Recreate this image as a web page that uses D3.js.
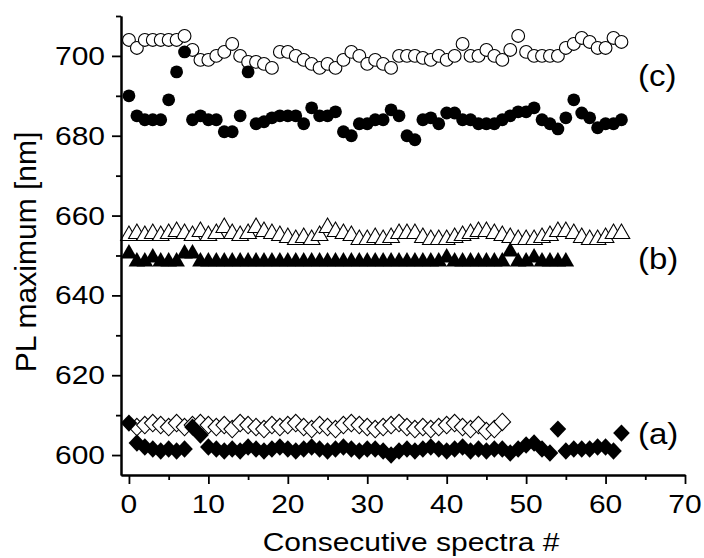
<!DOCTYPE html>
<html>
<head>
<meta charset="utf-8">
<script src="https://cdn.jsdelivr.net/npm/d3@7"></script>
<style>
  html, body { margin: 0; padding: 0; background: #fff; }
  svg { display: block; }
  text { font-family: "Liberation Sans", Arial, Helvetica, sans-serif; fill: #000; }
</style>
</head>
<body>
<svg id="chart" width="704" height="558"></svg>
<script>
// ---- data ----
const spectraIndex = d3.range(0, 63); // consecutive spectra numbers 0..62

// (c) open circles
const cOpen = [704,702,704,704,704,704,704,705,701.5,699,699,700,701,703,700,698.5,698.5,698,697,701,
               701,700,699,698,697,698,697,699,701,700,698,699,698,697,700,700,700,699.5,699,700,
               699,700,703,700,700,701.5,700,699,701.5,705,701,700,700,700,700,702,703,704.5,703.5,702,
               702,704.5,703.5];
// (c) filled circles
const cFilled = [690,685,684,684,684,689,696,701,684,685,684,684,681,681,685,696,683,683.5,684.5,685,
                 685,685,683,687,685,685,686,681,680,683,683,684,684,686.5,685,680,679,684,684.5,683,
                 685.7,685.7,684,684,683,683,683,684,685,686,686,687,684,683,681.7,684.5,689,685.7,684.5,682,
                 683,683,684];
// (b) open triangles
const bOpen = [655.5,656,655.5,656,655.5,656,656.5,656,655.5,656.5,655.5,656,657.5,656,655.5,656,657.5,656.5,656,655.5,
               655,654.5,655,654.5,655.5,657.5,656.5,656,655.5,654.5,654.5,655,654.5,655,656,656,656,655,654.5,654.5,
               654.5,655,655.5,656,656.5,656.5,656,655.5,655,654.5,654.5,654.5,655,655.5,656.5,656.5,656,655,654.5,654.5,
               655,656,656];
// (b) filled triangles (spectra 0..55)
const bFilled = [651,649,649,650,649,649,649,651,651,649,649,649,649,649,649,649,649,649,649,649,
                 649,649,649,649,649,649,649,649,649,649,649,649,649,649,649,649,649,649,649,649,
                 650,649,649,649,649,649,649,649,651.5,649,649,650,649,649,649,649];
// (a) open diamonds (spectra 1..47; none drawn at 0)
const aOpen = [null,607,607.5,608,607.5,607,608,607,607.5,608,607.5,607,607.5,606.5,608,607.5,607,606.5,607.5,607,
               607.5,608,607,606.5,607.5,607,606.5,607.5,608,607.5,607,606.5,607,607.5,608,607,606.5,607,606.5,607,
               607.5,608,607,606.5,607.5,606,606.5,608.3];
// (a) filled diamonds
const aFilled = [608,603,602,601.5,601,601.5,601,601.5,607,605,602,601.5,601,601.5,601,602,601.5,601,601.5,602,
                 601.5,601,601.5,602,601.5,601,601.5,602,601.5,601,601.5,601.5,601,600,601,601.5,601,601.5,602,601.5,
                 601,601.5,602,601,601.5,601,601.5,601.5,600.5,601.5,602.5,603,601.5,600.5,606.5,601,601.5,601.5,601.5,602,
                 602,601,605.5];

const xMajor = [0,10,20,30,40,50,60,70];
const xMinor = [5,15,25,35,45,55,65];
const yMajor = [600,620,640,660,680,700];
const yMinor = [610,630,650,670,690,710];
const seriesLabels = ["(c)", "(b)", "(a)"];
const seriesLabelLevels = [692.5, 646.5, 602.7];

// ---- scales ----
const svg = d3.select("#chart");
const x = d3.scaleLinear().domain([-1, 70]).range([121, 685]);
const y = d3.scaleLinear().domain([595, 710]).range([475, 16]);

function pts(vals) {
  return vals.map((v, i) => ({i: spectraIndex[i], v})).filter(d => d.v !== null && d.v !== undefined);
}

// ---- marks ----
const circleR = 6.4;
function triPath(d) {
  const cx = x(d.i), cy = y(d.v);
  return `M${cx},${cy - 7.5}L${cx + 8.3},${cy + 7}L${cx - 8.3},${cy + 7}Z`;
}
function diaPath(d) {
  const cx = x(d.i), cy = y(d.v);
  return `M${cx},${cy - 8.7}L${cx + 8.3},${cy}L${cx},${cy + 8.7}L${cx - 8.3},${cy}Z`;
}

const g = svg.append("g");
g.selectAll(".co").data(pts(cOpen)).join("circle")
  .attr("cx", d => x(d.i)).attr("cy", d => y(d.v)).attr("r", circleR)
  .attr("fill", "#fff").attr("stroke", "#000").attr("stroke-width", 1.1);
g.selectAll(".cf").data(pts(cFilled)).join("circle")
  .attr("cx", d => x(d.i)).attr("cy", d => y(d.v)).attr("r", circleR)
  .attr("fill", "#000");
g.selectAll(".bo").data(pts(bOpen)).join("path")
  .attr("d", triPath).attr("fill", "#fff").attr("stroke", "#000").attr("stroke-width", 1.1);
g.selectAll(".bf").data(pts(bFilled)).join("path")
  .attr("d", triPath).attr("fill", "#000");
g.selectAll(".ao").data(pts(aOpen)).join("path")
  .attr("d", diaPath).attr("fill", "#fff").attr("stroke", "#000").attr("stroke-width", 1.1);
g.selectAll(".af").data(pts(aFilled)).join("path")
  .attr("d", diaPath).attr("fill", "#000");

// ---- axes ----
function styleAxis(sel) {
  sel.selectAll("path").attr("stroke", "#000").attr("stroke-width", 2);
  sel.selectAll("line").attr("stroke", "#000").attr("stroke-width", 1.8);
}
svg.append("g").attr("transform", "translate(121,0)")
  .call(d3.axisLeft(y).tickValues(yMajor).tickSize(9).tickSizeOuter(0).tickFormat(""))
  .call(styleAxis);
svg.append("g").attr("transform", "translate(121,0)")
  .call(d3.axisLeft(y).tickValues(yMinor).tickSize(5).tickSizeOuter(0).tickFormat(""))
  .call(styleAxis);
svg.append("g").attr("transform", "translate(0,475)")
  .call(d3.axisBottom(x).tickValues(xMajor).tickSize(9).tickSizeOuter(0).tickFormat(""))
  .call(styleAxis);
svg.append("g").attr("transform", "translate(0,475)")
  .call(d3.axisBottom(x).tickValues(xMinor).tickSize(5).tickSizeOuter(0).tickFormat(""))
  .call(styleAxis);

// tick labels
svg.append("g").selectAll("text").data(yMajor).join("text")
  .attr("transform", d => `translate(105,${y(d) + 9}) scale(1,0.84)`)
  .attr("text-anchor", "end").attr("font-size", 30).text(d => d);
svg.append("g").selectAll("text").data(xMajor).join("text")
  .attr("transform", d => `translate(${x(d)},513) scale(1,0.84)`)
  .attr("text-anchor", "middle").attr("font-size", 30).text(d => d);

// axis titles
svg.append("text")
  .attr("transform", "translate(411,551) scale(1,0.84)")
  .attr("text-anchor", "middle").attr("font-size", 30).text("Consecutive spectra #");
svg.append("text")
  .attr("transform", "translate(36,252) rotate(-90)")
  .attr("text-anchor", "middle").attr("font-size", 30).text("PL maximum [nm]");

// series labels
svg.append("g").selectAll("text").data(seriesLabels).join("text")
  .attr("transform", (d, i) => `translate(638,${y(seriesLabelLevels[i])}) scale(1,0.9)`)
  .attr("font-size", 33).text(d => d);
</script>
</body>
</html>
